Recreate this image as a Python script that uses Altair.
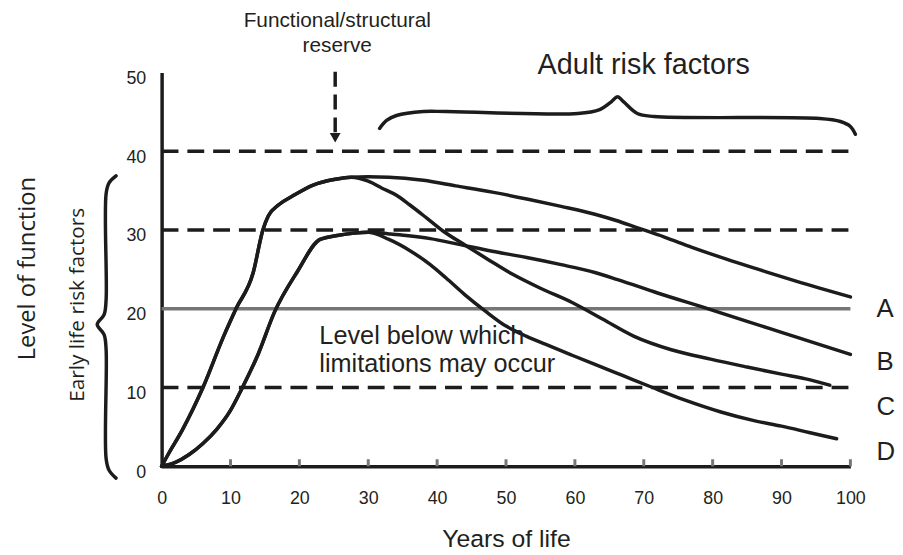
import altair as alt
import pandas as pd

# ---------------- data ----------------
x_tick_values = [0, 10, 20, 30, 40, 50, 60, 70, 80, 90, 100]
y_tick_values = [0, 10, 20, 30, 40, 50]

# shared rising limbs
upper_rise_x = [0, 1, 3, 6, 9, 10.8, 13.3, 14.7, 15.5, 17, 19, 22, 25, 27.5]
upper_rise_y = [0, 1.6, 4.6, 10, 16.5, 20, 24.6, 30, 31.8, 33.2, 34.3, 35.7, 36.4, 36.7]
lower_rise_x = [0, 2, 4, 6, 8, 10, 11.5, 14, 16.4, 19.7, 23, 25.5, 28, 30]
lower_rise_y = [0, 0.5, 1.5, 2.9, 4.7, 7.1, 9.6, 14.2, 19.6, 24.7, 28.8, 29.3, 29.6, 29.7]

# declining limbs
branch_A_x = [27.5, 30, 33, 38, 42.7, 48, 53.2, 58, 62.9, 66, 69, 73, 77, 82, 87, 92.1, 100]
branch_A_y = [36.7, 36.75, 36.7, 36.3, 35.6, 34.8, 33.9, 33.0, 32.0, 31.2, 30.3, 29.1, 27.8, 26.3, 24.9, 23.5, 21.5]
branch_C_x = [27.5, 30, 32, 34.1, 36, 38.5, 40.8, 44.2, 47.5, 50.9, 55, 59.6, 64, 68.6, 74, 79.7, 85, 90, 94, 97]
branch_C_y = [36.7, 36.2, 35.3, 34.4, 33.2, 31.5, 29.9, 28.0, 26.2, 24.4, 22.6, 20.8, 18.7, 16.5, 14.8, 13.6, 12.6, 11.7, 11.0, 10.3]
branch_B_x = [30, 33, 35.5, 39, 43, 48, 53, 58, 62.9, 66.2, 72, 79.7, 85, 90, 95, 100]
branch_B_y = [29.7, 29.5, 29.3, 28.9, 28.2, 27.3, 26.5, 25.6, 24.6, 23.7, 22.0, 19.9, 18.4, 17.0, 15.6, 14.2]
branch_D_x = [30, 33, 36, 39, 41.3, 44, 47, 50, 53, 55.7, 59.6, 63, 67, 71, 76, 81.2, 86, 90, 94, 98]
branch_D_y = [29.7, 28.8, 27.4, 25.6, 23.9, 21.8, 19.7, 17.8, 16.5, 15.5, 14.1, 12.9, 11.5, 10.1, 8.4, 6.9, 5.8, 5.1, 4.3, 3.5]

dashed_levels = [40, 30, 10]
limit_level = [20]

curve_labels = ["A", "B", "C", "D"]
curve_label_y = [19.0, 12.2, 6.5, 0.75]
curve_label_x = [103.8, 103.8, 103.8, 103.8]

# braces (decorative outline points)
left_brace_x = [-6.62, -7.63, -8.06, -8.06, -8.35, -9.35, -8.35, -8.06, -8.06, -7.63, -6.62]
left_brace_y = [36.86, 35.97, 34.59, 21.13, 19.25, 17.99, 16.73, 14.84, 1.0, -0.5, -1.5]
top_brace_x = [31.65, 32.66, 34.1, 37.99, 41.29, 60.43, 63.6, 65.32, 66.19, 67.05, 69.06, 71.5, 95.54, 98.56, 100.0, 100.72]
top_brace_y = [42.89, 43.9, 44.53, 45.03, 45.03, 44.78, 45.28, 46.29, 46.92, 46.29, 44.78, 44.4, 44.15, 43.77, 43.14, 42.14]

# reserve arrow
arrow_x = [25.2]
arrow_y_top = [51.0]
arrow_y_bottom = [42.4]
arrow_head_y = [41.7]

# ---------------- frames ----------------
curve_parts = {
    "A": (upper_rise_x + branch_A_x[1:], upper_rise_y + branch_A_y[1:]),
    "C": (upper_rise_x + branch_C_x[1:], upper_rise_y + branch_C_y[1:]),
    "B": (lower_rise_x + branch_B_x[1:], lower_rise_y + branch_B_y[1:]),
    "D": (lower_rise_x + branch_D_x[1:], lower_rise_y + branch_D_y[1:]),
}
rows = []
for name, (xs, ys) in curve_parts.items():
    for i, (xv, yv) in enumerate(zip(xs, ys)):
        rows.append({"curve": name, "x": xv, "y": yv, "i": i})
curve_df = pd.DataFrame(rows)

brace_rows = []
for i, (xv, yv) in enumerate(zip(left_brace_x, left_brace_y)):
    brace_rows.append({"brace": "left", "x": xv, "y": yv, "i": i})
for i, (xv, yv) in enumerate(zip(top_brace_x, top_brace_y)):
    brace_rows.append({"brace": "top", "x": xv, "y": yv, "i": i})
brace_df = pd.DataFrame(brace_rows)

dash_df = pd.DataFrame({"y": dashed_levels, "x": [0] * 3, "x2": [100] * 3})
limit_df = pd.DataFrame({"y": limit_level, "x": [0], "x2": [100]})
tick_df = pd.DataFrame({"x": x_tick_values[1:], "y": [0] * 10, "y2": [0.9] * 10})
label_df = pd.DataFrame({"x": curve_label_x, "y": curve_label_y, "t": curve_labels})
arrow_df = pd.DataFrame({"x": arrow_x, "y": arrow_y_bottom, "y2": arrow_y_top})
head_df = pd.DataFrame({"x": arrow_x, "y": arrow_head_y})

FONT = "Liberation Sans"
INK = "#1c1c1c"
TXT = "#231f20"

xscale = alt.Scale(domain=[0, 100], nice=False, zero=False)
yscale = alt.Scale(domain=[0, 50], nice=False, zero=False)

x_axis = alt.Axis(
    values=x_tick_values, ticks=False, tickSize=0, grid=False,
    domainColor=INK, domainWidth=3.5,
    labelFont=FONT, labelFontSize=18, labelColor=TXT, labelPadding=24,
    labelFlush=False, labelOverlap=False,
    titleFont=FONT, titleFontSize=25, titleFontWeight="normal",
    titleColor=TXT, titleX=347.5, titleY=81, titleBaseline="alphabetic", titleAlign="center",
)
y_axis = alt.Axis(
    values=y_tick_values, ticks=False, tickSize=0, grid=False,
    domainColor=INK, domainWidth=3.5,
    labelFont=FONT, labelFontSize=18, labelColor=TXT, labelPadding=16,
    labelOffset=6, labelBaseline="middle", labelFlush=False, labelOverlap=False,
    titleFont="Open Sans", titleFontSize=24, titleFontWeight="normal",
    titleColor=TXT, titleAngle=270, titleX=-128, titleY=197.5,
    titleBaseline="alphabetic", titleAlign="center",
)


def X():
    return alt.X("x:Q", scale=xscale, axis=x_axis, title="Years of life")


def Y():
    return alt.Y("y:Q", scale=yscale, axis=y_axis, title="Level of function")


dashes = alt.Chart(dash_df).mark_rule(color=INK, strokeWidth=3.5, strokeDash=[17, 9]).encode(
    x=X(), x2="x2:Q", y=Y()
)
limit = alt.Chart(limit_df).mark_rule(color="#767676", strokeWidth=3.5).encode(
    x=X(), x2="x2:Q", y=Y()
)
ticks = alt.Chart(tick_df).mark_rule(color="#777777", strokeWidth=3).encode(
    x=X(), y=Y(), y2="y2:Q"
)

curves = alt.Chart(curve_df).mark_line(
    color=INK, strokeWidth=3.5, interpolate="monotone", strokeCap="round", strokeJoin="round"
).encode(x=X(), y=Y(), detail="curve:N", order="i:Q")

braces = alt.Chart(brace_df).mark_line(
    color=INK, strokeWidth=3.5, interpolate="catmull-rom", strokeCap="round"
).encode(x=X(), y=Y(), detail="brace:N", order="i:Q")

arrow = alt.Chart(arrow_df).mark_rule(color=INK, strokeWidth=3.5, strokeDash=[15, 8]).encode(
    x=X(), y=Y(), y2="y2:Q"
)
head = alt.Chart(head_df).mark_point(
    shape="triangle-down", filled=True, color=INK, size=120, opacity=1
).encode(x=X(), y=Y())

letter_labels = alt.Chart(label_df).mark_text(
    font=FONT, fontSize=26, color=TXT, align="left", baseline="alphabetic"
).encode(x=X(), y=Y(), text="t:N")


def note(lines_x, lines_y, texts, size, align="center", font=FONT, angle=0):
    df = pd.DataFrame({"x": lines_x, "y": lines_y, "t": texts})
    kw = dict(font=font, fontSize=size, color=TXT, align=align, baseline="alphabetic")
    if angle:
        kw["angle"] = angle
    return alt.Chart(df).mark_text(**kw).encode(x=X(), y=Y(), text="t:N")


reserve_note = note([25.5, 25.5], [55.7, 52.6], ["Functional/structural", "reserve"], 21)
adult_note = note([70.0], [49.8], ["Adult risk factors"], 29)
limit_note = note([22.9, 22.9], [15.5, 11.95], ["Level below which", "limitations may occur"], 25.5, align="left")
early_note = note([-11.2], [20.5], ["Early life risk factors"], 21, font="Open Sans", angle=270)

chart = alt.layer(
    dashes, limit, ticks, curves, braces, arrow, head,
    letter_labels, reserve_note, adult_note, limit_note, early_note,
).properties(
    width=695, height=397.5,
    padding={"left": 155, "top": 62.5, "right": 45, "bottom": 87},
    autosize=alt.AutoSizeParams(type="none"),
    background="white",
).configure_view(strokeWidth=0)

chart.save("out.html", embed_options={"renderer": "svg", "actions": False})
